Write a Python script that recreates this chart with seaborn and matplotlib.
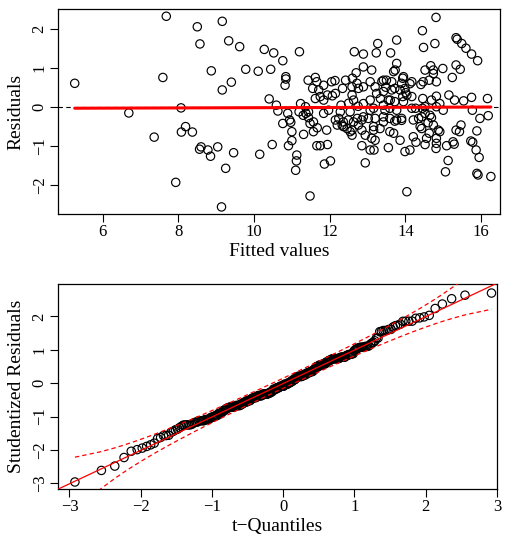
import math
from statistics import NormalDist

import numpy as np
import pandas as pd
import matplotlib
matplotlib.use("Agg")
import matplotlib.pyplot as plt
import seaborn as sns

# ---------------- data ----------------
fitted = [
    5.26, 6.69, 7.68, 7.59, 7.36, 8.07, 8.19, 8.08, 8.37, 7.93, 8.50, 8.57, 8.60, 8.56,
    9.16, 9.33, 9.62, 10.27, 10.52, 10.76, 11.20, 8.87, 9.78, 10.11, 10.44, 10.84, 10.84,
    10.82, 9.40, 9.16, 10.40, 10.59, 10.63, 10.89, 11.19,
    10.76, 10.94, 10.97, 8.78, 8.85, 9.04, 9.46, 9.25, 10.15, 10.48, 10.91, 11.00, 11.13,
    11.12, 11.10, 9.14,
    12.65, 12.89, 13.23, 13.27, 13.61, 13.77, 12.89, 13.11, 12.70, 13.73, 13.77, 11.43,
    11.62, 11.66, 11.55, 11.71, 11.75, 11.62, 11.84, 12.07, 12.05, 12.14, 12.34, 12.42,
    12.60, 12.59, 12.72, 12.76, 12.89, 13.07, 13.20, 13.24, 13.42, 13.50, 13.48, 13.64,
    13.72, 12.59, 12.63, 13.07, 13.34, 13.60, 12.89, 11.97, 12.28, 12.54, 13.07, 13.46,
    11.37,
    11.30, 11.44, 11.48, 11.67, 11.92, 11.31, 12.15, 12.20, 12.33, 12.46, 12.54, 12.59,
    12.63, 12.76, 12.85, 13.02, 13.42, 13.59, 13.77, 13.33, 13.16, 12.94, 13.11, 13.69,
    13.86, 12.85, 13.07, 13.17, 13.55, 11.66, 11.75, 11.94, 11.86, 12.02, 12.94, 11.48,
    14.81, 14.45, 14.48, 14.78, 15.34, 15.37, 15.49, 15.60, 15.75, 15.91, 14.52, 14.67,
    14.74, 14.99, 15.34, 15.45, 15.24, 14.82, 14.63, 14.47, 14.41, 14.17, 13.93, 13.90,
    13.99, 14.01, 14.17, 13.93, 13.95, 14.46, 14.69, 14.82, 15.15, 15.30, 15.54, 15.75,
    16.17, 14.27, 14.82, 15.00, 14.52,
    13.90, 14.21, 14.35, 14.39, 14.43, 14.52, 14.69, 14.74, 14.63, 14.87, 14.91, 14.82,
    14.82, 14.81, 14.52, 14.28, 14.12, 13.99, 15.09, 15.29, 15.34, 15.43, 15.47, 15.73,
    15.78, 15.87, 15.95, 15.89, 15.97, 16.19, 15.77, 15.13, 15.06, 15.89, 15.92, 16.26,
    14.04,
    13.69, 13.95, 14.12, 13.38, 13.42, 13.64, 13.86, 14.04, 13.55, 13.72, 14.17, 13.16,
    13.42, 13.59, 13.77, 13.20, 13.42, 13.72, 13.90, 13.16, 13.59, 14.21, 13.20,
    11.84, 11.94, 12.15, 11.84, 12.24, 12.36, 12.49, 12.73, 12.89, 12.36, 12.59, 12.85,
    12.50, 12.75, 12.30,
    14.74, 14.91, 14.45, 14.43, 14.65, 14.56, 15.26, 14.60,
    11.23, 11.36, 11.44, 11.57, 11.00, 11.57,
]
resid = [
    0.61, -0.15, 2.33, 0.76, -0.77, -0.02, -0.50, -0.64, -0.64, -1.93, 2.06, 1.62, -1.02, -1.08,
    2.20, 1.70, 1.55, 1.48, 1.39, 1.19, 1.42, 0.93, 0.97, 0.92, 0.97, 0.78, 0.72,
    0.56, 0.64, 0.44, 0.21, 0.05, -0.10, -0.16, -0.12,
    -0.42, -0.33, -0.39, -1.10, -1.26, -1.02, -1.17, -1.57, -1.21, -0.96, -0.99, -0.86, -1.23,
    -1.38, -1.62, -2.56,
    1.42, 1.36, 1.39, 1.63, 1.39, 1.72, 1.03, 0.95, 0.88, 0.95, 1.12, 0.69,
    0.76, 0.65, 0.48, 0.44, 0.27, 0.22, 0.18, 0.29, 0.65, 0.68, 0.48, 0.69,
    0.74, 0.52, 0.61, 0.48, 0.52, 0.65, 0.52, 0.35, 0.69, 0.69, 0.51, 0.65,
    0.48, 0.31, 0.18, 0.18, 0.22, 0.18, 0.09, -0.08, -0.12, -0.12, -0.08, -0.08,
    -0.16,
    -0.21, -0.27, -0.42, -0.53, -0.59, -0.70, -0.33, -0.46, -0.46, -0.55, -0.63, -0.72,
    -0.38, -0.46, -0.33, -0.29, -0.38, -0.29, -0.33, -0.55, -0.59, -0.72, -0.80, -0.67,
    -0.85, -0.99, -1.10, -1.10, -1.04, -0.99, -0.99, -0.96, -1.46, -1.38, -1.43, -2.28,
    2.30, 1.96, 1.53, 1.63, 1.78, 1.74, 1.63, 1.51, 1.36, 1.19, 0.95, 1.06,
    0.95, 0.99, 1.08, 0.97, 0.76, 0.65, 0.69, 0.65, 0.58, 0.65, 0.74, 0.61,
    0.48, 0.37, 0.27, 0.27, 0.14, 0.22, 0.18, 0.28, 0.31, 0.18, 0.16, 0.25,
    0.22, -0.03, 0.01, -0.08, 0.01,
    -0.29, -0.33, -0.29, -0.50, -0.55, -0.16, -0.27, -0.46, -0.67, -0.59, -0.63, -0.80,
    -0.93, -1.06, -0.96, -0.90, -1.10, -1.14, -0.99, -0.95, -0.59, -0.63, -0.46, -0.87,
    -0.90, -1.10, -1.29, -0.61, -0.29, -0.22, -0.08, -1.37, -1.66, -1.70, -1.74, -1.78,
    -2.17,
    0.91, 0.78, 0.60, 0.66, 0.40, 0.44, 0.44, 0.31, 0.18, 0.14, -0.03, -0.03,
    0.05, -0.03, -0.08, -0.29, -0.25, -0.36, -0.34, -0.50, -0.63, -0.76, -0.85,
    0.56, 0.31, 0.35, -0.16, -0.29, -0.38, -0.33, -0.29, -0.25, -0.50, -0.59, -0.59,
    0.10, 0.02, 0.05,
    0.86, 0.09, -0.03, -0.25, -0.21, -0.80, -0.89, -0.40,
    0.09, 0.01, -0.12, -0.38, -0.63, -0.63,
]

top_xticks = [6, 8, 10, 12, 14, 16]
top_yticks = [-2, -1, 0, 1, 2]
qq_xticks = [-3, -2, -1, 0, 1, 2, 3]
qq_yticks = [-3, -2, -1, 0, 1, 2]
n_coef = 2  # model coefficients (for the t degrees of freedom)

# ---------------- derived quantities for the Q-Q panel ----------------
df_top = pd.DataFrame({"fitted": fitted, "resid": resid})
n = len(resid)
dof = n - n_coef - 1
e = np.asarray(resid)
xf = np.asarray(fitted)
# externally studentized residuals (leave-one-out scale, leverage from the fit)
hat = 1.0 / n + (xf - xf.mean()) ** 2 / np.sum((xf - xf.mean()) ** 2)
sse = np.sum(e ** 2)
s_i = np.sqrt((sse - e ** 2 / (1 - hat)) / (n - n_coef - 1))
stud = np.sort(e / (s_i * np.sqrt(1 - hat)))


def qt(p, nu):
    z = NormalDist().inv_cdf(p)
    g1 = (z ** 3 + z) / 4
    g2 = (5 * z ** 5 + 16 * z ** 3 + 3 * z) / 96
    g3 = (3 * z ** 7 + 19 * z ** 5 + 17 * z ** 3 - 15 * z) / 384
    return z + g1 / nu + g2 / nu ** 2 + g3 / nu ** 3


def order_stat_quantile(m, prob):
    """prob-quantile of each uniform order statistic U_(k), k=1..m."""
    k = np.arange(1, m + 1)
    j = np.arange(m + 1)
    logc = np.array([math.lgamma(m + 1) - math.lgamma(jj + 1) - math.lgamma(m - jj + 1) for jj in j])
    lo = np.zeros(m)
    hi = np.ones(m)
    mask = j[None, :] >= k[:, None]
    for _ in range(60):
        mid = (lo + hi) / 2
        lp = logc[None, :] + j[None, :] * np.log(mid)[:, None] + (m - j)[None, :] * np.log1p(-mid)[:, None]
        cdf = (np.exp(lp) * mask).sum(axis=1)
        high = cdf > prob
        hi = np.where(high, mid, hi)
        lo = np.where(high, lo, mid)
    return (lo + hi) / 2


pp = (np.arange(1, n + 1) - 0.5) / n
zq = np.array([qt(p, dof) for p in pp])
lower = np.array([qt(p, dof) for p in order_stat_quantile(n, 0.025)])
upper = np.array([qt(p, dof) for p in order_stat_quantile(n, 0.975)])
qq = pd.DataFrame({"z": zq, "stud": stud, "lower": lower, "upper": upper})

# ---------------- styling ----------------
sns.set_theme(style="white", rc={
    "text.color": "black", "axes.labelcolor": "black",
    "xtick.color": "black", "ytick.color": "black",
    "axes.edgecolor": "black",
})
plt.rcParams["font.family"] = ["Liberation Serif", "DejaVu Serif"]

fig = plt.figure(figsize=(5.05, 5.43), dpi=100)
ax1 = fig.add_axes([0.115, 0.606, 0.875, 0.377])
ax2 = fig.add_axes([0.115, 0.0994, 0.869, 0.378])

# ---- top: residuals vs fitted ----
ax1.set_xlim(4.82, 16.5)
ax1.set_ylim(-2.74, 2.51)
sns.scatterplot(data=df_top, x="fitted", y="resid", ax=ax1, marker="o", s=36,
                facecolor="none", edgecolor="black", linewidth=0.85, zorder=2)
ax1.axhline(0, color="black", lw=0.8, ls=(0, (4, 3)), zorder=1)
sns.regplot(data=df_top, x="fitted", y="resid", ax=ax1, scatter=False, ci=None,
            color="red", line_kws=dict(lw=2.2, zorder=3))
ax1.set_xticks(top_xticks)
ax1.set_yticks(top_yticks)
ax1.set_xlabel("Fitted values", fontsize=14, labelpad=2)
ax1.set_ylabel("Residuals", fontsize=14, labelpad=5)

# ---- bottom: Q-Q plot ----
ax2.set_xlim(-3.16, 3.0)
ax2.set_ylim(-3.17, 2.98)
sns.scatterplot(data=qq, x="z", y="stud", ax=ax2, marker="o", s=36,
                facecolor="none", edgecolor="black", linewidth=0.85, zorder=2)
sns.regplot(data=qq, x="z", y="stud", ax=ax2, scatter=False, ci=None, truncate=False,
            color="red", line_kws=dict(lw=0.9, zorder=3))
sns.lineplot(data=qq, x="z", y="lower", ax=ax2, color="red", lw=0.9,
             ls=(0, (3.5, 2.5)), zorder=3)
sns.lineplot(data=qq, x="z", y="upper", ax=ax2, color="red", lw=0.9,
             ls=(0, (3.5, 2.5)), zorder=3)
ax2.set_xlim(-3.16, 3.0)
ax2.set_ylim(-3.17, 2.98)
ax2.set_xticks(qq_xticks)
ax2.set_yticks(qq_yticks)
ax2.set_xlabel("t\u2212Quantiles", fontsize=14, labelpad=2)
ax2.set_ylabel("Studentized Residuals", fontsize=14, labelpad=5)

for ax in (ax1, ax2):
    ax.tick_params(axis="both", which="major", direction="out", length=5.5, width=0.8,
                   labelsize=12, pad=2, bottom=True, left=True, top=False, right=False)
    ax.tick_params(axis="y", labelrotation=90)
    for lab in ax.get_yticklabels():
        lab.set_va("center")
    for sp in ax.spines.values():
        sp.set_color("black")
        sp.set_linewidth(0.9)
        sp.set_visible(True)

fig.savefig("out.png", dpi=100)
